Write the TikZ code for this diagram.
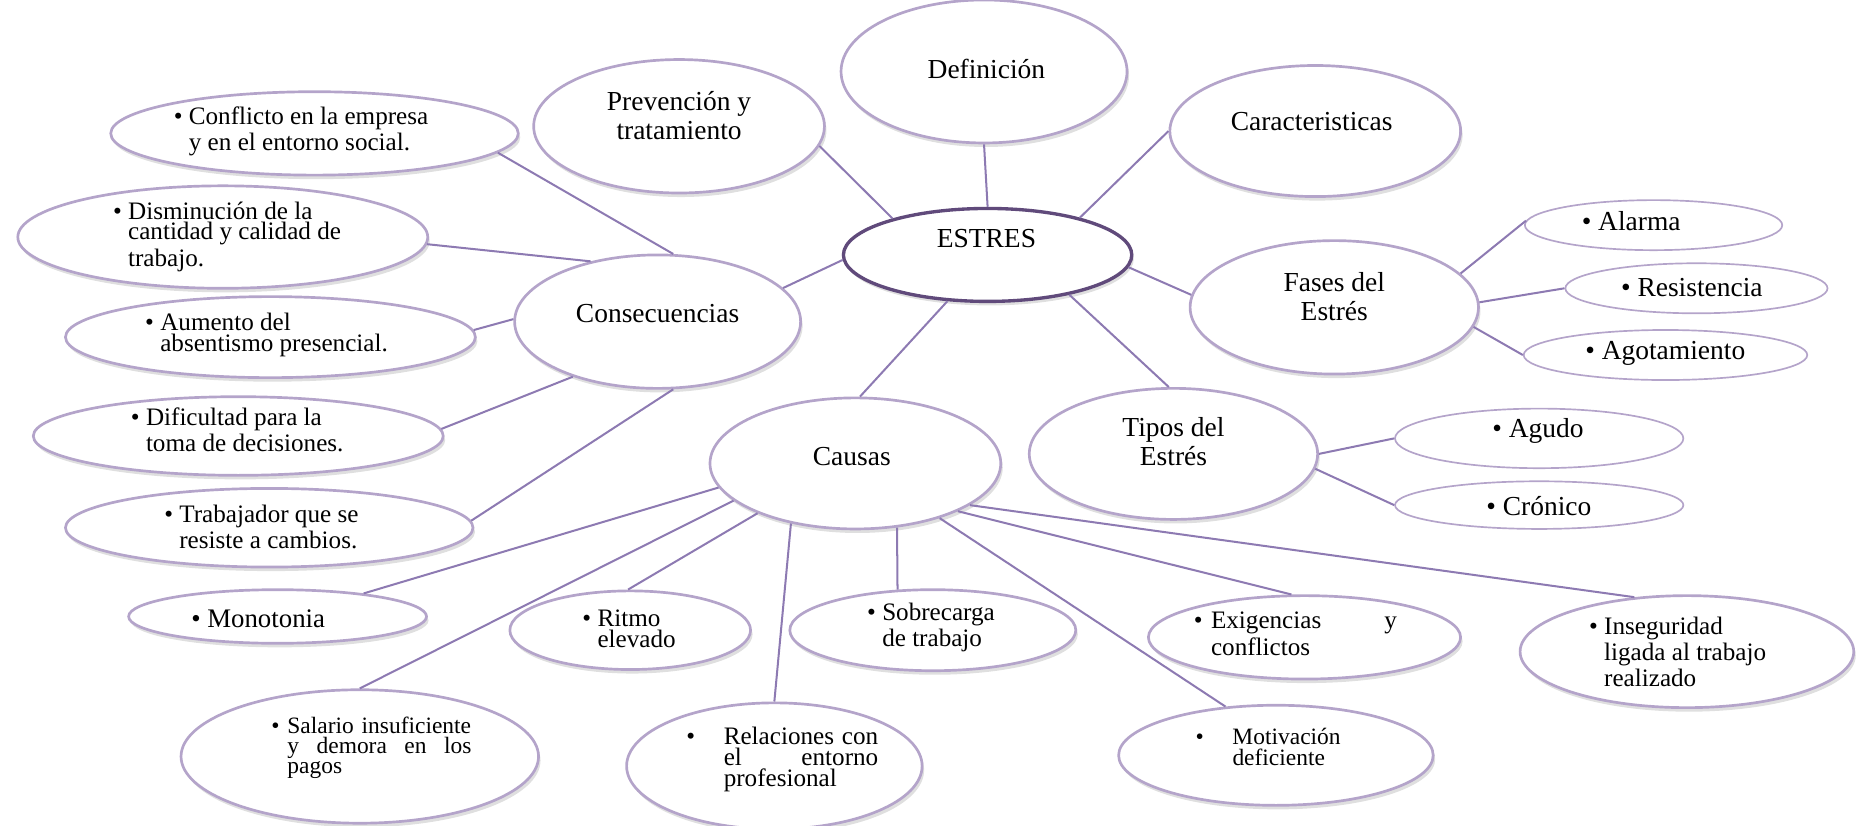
\documentclass[tikz,border=0pt]{standalone}
\usepackage{fontspec}
\setmainfont{Liberation Serif}
\usetikzlibrary{shapes.geometric,shadows}
\definecolor{bubline}{RGB}{180,164,202}
\definecolor{coreline}{RGB}{96,74,123}
\definecolor{linkline}{RGB}{141,122,178}
\hyphenpenalty=10000

\tikzset{
  bubble/.style 2 args={ellipse, draw=bubline, line width=0.8pt, fill=white, inner sep=0pt,
    minimum width=#1cm, minimum height=#2cm,
    drop shadow={opacity=0.25, shadow xshift=0.6pt, shadow yshift=-1.2pt}},
  pill/.style 2 args={ellipse, draw=bubline, line width=0.5pt, fill=white, inner sep=0pt,
    minimum width=#1cm, minimum height=#2cm},
  link/.style={draw=linkline, line width=0.6pt},
  lbl/.style={font=\fontsize{8.2}{8.6}\selectfont, align=center, inner sep=0pt},
  itm/.style={font=\fontsize{7.5}{6.2}\selectfont, align=left, inner sep=0pt, anchor=west},
  sml/.style={font=\fontsize{7}{6}\selectfont, align=left, inner sep=0pt, anchor=west},
}

\begin{document}
\begin{tikzpicture}[x=0.0125cm, y=-0.0125cm]
	\useasboundingbox (0,0) rectangle (1568,693);

	% centre
	\node[bubble={3.025}{0.975}, draw=coreline, line width=1pt] (estres) at (829,214) {};
	\node[lbl] (estres-t) at (828,200) {ESTRES};

	% first ring
	\node[bubble={3.0}{1.5}] (defi) at (826,60) {};
	\node[lbl] (defi-t) at (828,58) {Definición};
	\node[bubble={3.05}{1.4}] (prev) at (570,106) {};
	\node[lbl] (prev-t) at (570,97) {Prevención y\\tratamiento};
	\node[bubble={3.05}{1.375}] (cara) at (1104,110) {};
	\node[lbl] (cara-t) at (1101,102) {Caracteristicas};
	\node[bubble={3.025}{1.4}] (fase) at (1120,258) {};
	\node[lbl] (fase-t) at (1120,249) {Fases del\\Estrés};
	\node[bubble={3.025}{1.375}] (tipo) at (985,381) {};
	\node[lbl] (tipo-t) at (985,371) {Tipos del\\Estrés};
	\node[bubble={3.0}{1.4}] (cons) at (552,270) {};
	\node[lbl] (cons-t) at (552,263) {Consecuencias};
	\node[bubble={3.05}{1.375}] (caus) at (718,389) {};
	\node[lbl] (caus-t) at (715,383) {Causas};

	% fases
	\node[pill={2.7}{0.525}] (alar) at (1388,189) {};
	\node[itm, font=\fontsize{8.2}{8.8}\selectfont] (alar-t) at (1341,186) {\llap{\textbullet\ }Alarma};
	\node[pill={2.75}{0.525}] (resi) at (1424,242) {};
	\node[itm, font=\fontsize{8.2}{8.8}\selectfont] (resi-t) at (1374,241) {\llap{\textbullet\ }Resistencia};
	\node[pill={2.975}{0.525}] (agot) at (1398,298) {};
	\node[itm, font=\fontsize{8.2}{8.8}\selectfont] (agot-t) at (1344,297) {\llap{\textbullet\ }Agotamiento};

	% tipos
	\node[pill={3.025}{0.625}] (agud) at (1292,368) {};
	\node[itm, font=\fontsize{8.2}{8.8}\selectfont] (agud-t) at (1266,362) {\llap{\textbullet\ }Agudo};
	\node[pill={3.025}{0.5}] (cron) at (1292,424) {};
	\node[itm, font=\fontsize{8.2}{8.8}\selectfont] (cron-t) at (1261,425) {\llap{\textbullet\ }Crónico};

	% consecuencias
	\node[bubble={4.275}{0.875}] (conf) at (264,112) {};
	\node[itm] (conf-t) at (158,110.5) {\llap{\textbullet\ }Conflicto en la empresa\\y en el entorno social.};
	\node[bubble={4.3}{1.075}] (dism) at (187,199) {};
	\node[itm] (dism-t) at (107,198.5) {\llap{\textbullet\ }Disminución de la\\cantidad y calidad de\\trabajo.};
	\node[bubble={4.3}{0.85}] (aume) at (227,283) {};
	\node[itm] (aume-t) at (134,281) {\llap{\textbullet\ }Aumento del\\absentismo presencial.};
	\node[bubble={4.3}{0.825}] (difi) at (200,366) {};
	\node[itm] (difi-t) at (122,361) {\llap{\textbullet\ }Dificultad para la\\toma de decisiones.};
	\node[bubble={4.275}{0.825}] (trab) at (226,443) {};
	\node[itm] (trab-t) at (150,442) {\llap{\textbullet\ }Trabajador que se\\resiste a cambios.};

	% causas
	\node[bubble={3.125}{0.5625}] (mono) at (233,517.5) {};
	\node[itm, font=\fontsize{8}{8}\selectfont] (mono-t) at (173.5,519) {\llap{\textbullet\ }Monotonia};
	\node[bubble={2.525}{0.825}] (ritm) at (529,529) {};
	\node[itm] (ritm-t) at (501,528) {\llap{\textbullet\ }Ritmo\\elevado};
	\node[bubble={3.0}{0.85}] (sobr) at (783,529) {};
	\node[itm] (sobr-t) at (740,527) {\llap{\textbullet\ }Sobrecarga\\de trabajo};
	\node[bubble={3.275}{0.875}] (exig) at (1095,535) {};
	\node[itm, text width=1.95cm] (exig-t) at (1016,532) {\llap{\textbullet\ }Exigencias\hfill y\\conflictos};
	\node[bubble={3.5}{1.175}] (inse) at (1416,547) {};
	\node[itm] (inse-t) at (1346,547) {\llap{\textbullet\ }Inseguridad\\ligada al trabajo\\realizado};
	\node[bubble={3.75}{1.4}] (sala) at (302,635) {};
	\node[sml, text width=1.93cm] (sala-t) at (240.7,628) {\llap{\textbullet\ }Salario insuficiente\\y\hfill demora\hfill en\hfill los\\pagos};
	\node[bubble={3.1}{1.325}] (rela) at (650,643) {};
	\node[itm, text width=1.62cm] (rela-t) at (607,637.5) {\llap{\textbullet\hspace{0.3cm}}Relaciones\hfill con\\el\hfill entorno\\profesional};
	\node[bubble={3.3}{1.05}] (moti) at (1071,634) {};
	\node[sml] (moti-t) at (1034,627) {\llap{\textbullet\hspace{0.3cm}}Motivación\\deficiente};

	% connectors
	\draw[link] (defi.south) -- (estres.north);
	\draw[link] (estres.159) -- (prev.-8);
	\draw[link] (estres.22) -- (cara.180);
	\draw[link] (estres.-5) -- (fase.175);
	\draw[link] (estres.-26) -- (tipo.94);
	\draw[link] (estres.229) -- (caus.86);
	\draw[link] (estres.182) -- (cons.15);

	\draw[link] (fase.15) -- (alar.178);
	\draw[link] (fase.2) -- (resi.180);
	\draw[link] (fase.-8) -- (agot.180);
	\draw[link] (tipo.0) -- (agud.180);
	\draw[link] (tipo.-6) -- (cron.180);

	\draw[link] (cons.77) -- (conf.-6);
	\draw[link] (cons.138) -- (dism.-2);
	\draw[link] (cons.179) -- (aume.2);
	\draw[link] (cons.213) -- (difi.2);
	\draw[link] (cons.-77) -- (trab.2);

	\draw[link] (caus.190) -- (mono.15);
	\draw[link] (caus.197) -- (sala.90);
	\draw[link] (caus.207) -- (ritm.93);
	\draw[link] (caus.223) -- (rela.90);
	\draw[link] (caus.-57) -- (sobr.131);
	\draw[link] (caus.-33) -- (moti.136);
	\draw[link] (caus.-25) -- (exig.107);
	\draw[link] (caus.-20) -- (inse.134);
\end{tikzpicture}
\end{document}
